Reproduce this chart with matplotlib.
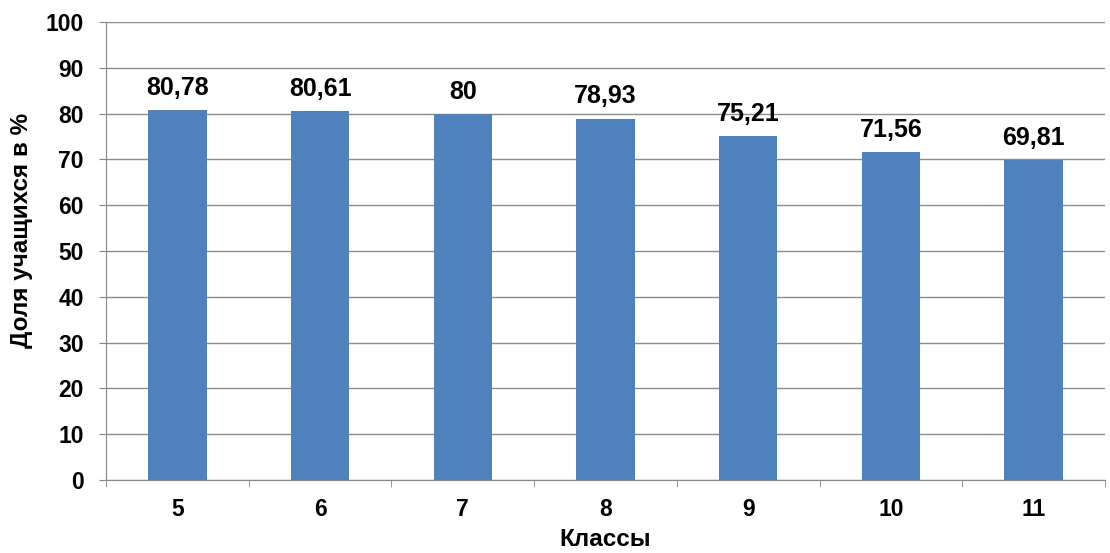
import matplotlib.pyplot as plt
import numpy as np

plt.rcParams['font.family'] = ['Liberation Sans', 'DejaVu Sans']

# Данные
klassy = ['5', '6', '7', '8', '9', '10', '11']
dolya = [80.78, 80.61, 80.0, 78.93, 75.21, 71.56, 69.81]
podpisi = ['80,78', '80,61', '80', '78,93', '75,21', '71,56', '69,81']

fig = plt.figure(figsize=(11.1, 5.53), dpi=100)
ax = fig.add_axes([0.0955, 0.132, 0.9, 0.828])

x = np.arange(len(klassy))
bars = ax.bar(x, dolya, width=0.41, color='#4F81BD', zorder=3)

for b, t in zip(bars, podpisi):
    ax.text(b.get_x() + b.get_width() / 2, b.get_height() + 3.3, t,
            ha='center', va='baseline', fontsize=18, fontweight='bold')

ax.set_xlim(-0.5, len(klassy) - 0.5)
ax.set_ylim(0, 100)
ax.set_yticks(range(0, 101, 10))
ax.set_xticks(x)
ax.set_xticklabels(klassy)
ax.set_xticks(np.arange(-0.5, len(klassy)), minor=True)
ax.tick_params(axis='x', which='major', length=0, pad=13, labelsize=16.5)
ax.tick_params(axis='x', which='minor', length=5, color='#868686')
ax.tick_params(axis='y', length=5, color='#868686', labelsize=16.5, pad=11)
for lab in ax.get_xticklabels() + ax.get_yticklabels():
    lab.set_fontweight('bold')

ax.yaxis.grid(True, color='#8c8c8c', linewidth=1, zorder=0)
for s in ['top', 'right']:
    ax.spines[s].set_visible(False)
ax.spines['left'].set_color('#868686')
ax.spines['bottom'].set_color('#868686')

ax.set_xlabel('Классы', fontsize=17.5, fontweight='bold', labelpad=5)
ax.set_ylabel('Доля учащихся в %', fontsize=17.5, fontweight='bold')
ax.yaxis.set_label_coords(-0.073, 0.546)

plt.savefig('out.png', dpi=100)
